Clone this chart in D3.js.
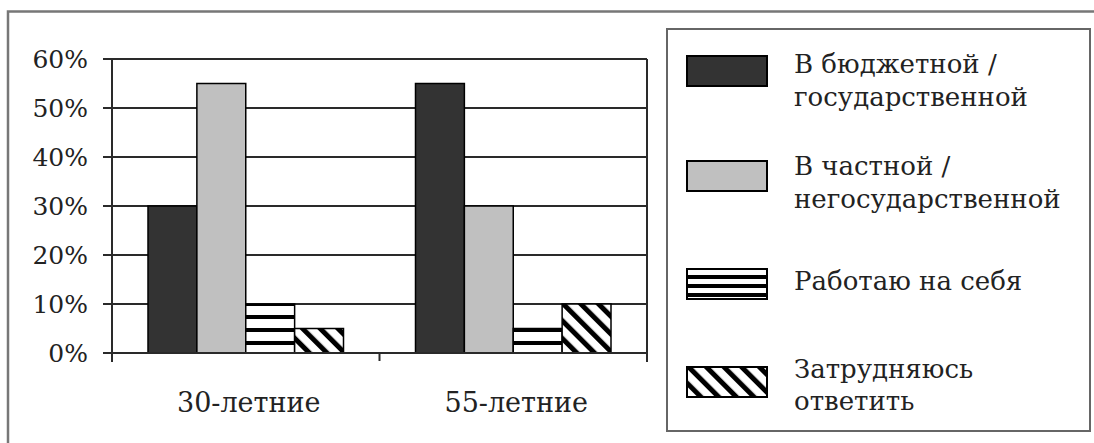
<!DOCTYPE html>
<html><head><meta charset="utf-8">
<script src="https://cdn.jsdelivr.net/npm/d3@7"></script>
<style>html,body{margin:0;padding:0;background:#fff;}svg{display:block;} text{font-family:"DejaVu Serif",serif;}</style>
</head><body>
<svg id="c" width="1094" height="443"></svg>
<script>
// ---- data ----
const categories = ["30-летние", "55-летние"];
const seriesNames = ["В бюджетной / государственной", "В частной / негосударственной", "Работаю на себя", "Затрудняюсь ответить"];
const legendLines = [["В бюджетной /", "государственной"], ["В частной /", "негосударственной"], ["Работаю на себя"], ["Затрудняюсь", "ответить"]];
const budgetValues = [30, 55];
const privateValues = [55, 30];
const selfValues = [10, 5];
const unsureValues = [5, 10];
const yTicks = [0, 10, 20, 30, 40, 50, 60];

const seriesValues = [budgetValues, privateValues, selfValues, unsureValues];

const svg = d3.select("#c");
const W = 1094, H = 443;
const TXT = "#222";

// patterns
const defs = svg.append("defs");
const hp = defs.append("pattern").attr("id", "hstripe").attr("patternUnits", "userSpaceOnUse")
  .attr("width", 10).attr("height", 13);
hp.append("rect").attr("width", 10).attr("height", 13).attr("fill", "#fff");
hp.append("rect").attr("y", 3).attr("width", 10).attr("height", 4).attr("fill", "#000");
const hpl = defs.append("pattern").attr("id", "hstripeL").attr("patternUnits", "userSpaceOnUse")
  .attr("width", 10).attr("height", 9);
hpl.append("rect").attr("width", 10).attr("height", 9).attr("fill", "#fff");
hpl.append("rect").attr("y", 5).attr("width", 10).attr("height", 4).attr("fill", "#000");
const dp = defs.append("pattern").attr("id", "diag").attr("patternUnits", "userSpaceOnUse")
  .attr("width", 12.5).attr("height", 12.5).attr("patternTransform", "rotate(-45)");
dp.append("rect").attr("width", 12.5).attr("height", 12.5).attr("fill", "#fff");
dp.append("rect").attr("x", 0).attr("width", 5).attr("height", 12.5).attr("fill", "#000");

const fills = ["#333333", "#c0c0c0", "url(#hstripe)", "url(#diag)"];
const legendFills = ["#333333", "#c0c0c0", "url(#hstripeL)", "url(#diag)"];

svg.append("rect").attr("width", W).attr("height", H).attr("fill", "#fff");

// outer frame (top and left visible)
svg.append("path").attr("d", "M8,445 L8,11.5 L1096,11.5").attr("fill", "none")
  .attr("stroke", "#777").attr("stroke-width", 2.5);

// scales
const plotL = 112, plotR = 647, plotT = 59, plotB = 353;
const x0 = d3.scaleBand().domain(categories).range([plotL, plotR]).paddingInner(0).paddingOuter(0);
const x1 = d3.scaleBand().domain(seriesNames).range([36, x0.bandwidth() - 36]).padding(0);
const y = d3.scaleLinear().domain([0, 60]).range([plotB, plotT]);

// gridlines
svg.append("g").selectAll("line").data(yTicks).join("line")
  .attr("x1", plotL - 9).attr("x2", plotR)
  .attr("y1", d => y(d)).attr("y2", d => y(d))
  .attr("stroke", "#2a2a2a").attr("stroke-width", 2);

// bars
const groups = svg.append("g").selectAll("g").data(categories).join("g")
  .attr("transform", d => `translate(${x0(d)},0)`);
groups.selectAll("rect").data((c, ci) => seriesNames.map((s, si) => ({ s, si, v: seriesValues[si][ci] })))
  .join("rect")
  .attr("x", d => x1(d.s)).attr("width", x1.bandwidth())
  .attr("y", d => y(d.v)).attr("height", d => y(0) - y(d.v))
  .attr("fill", d => fills[d.si]).attr("stroke", "#000").attr("stroke-width", 1.5);

// axes lines
svg.append("line").attr("x1", plotL).attr("x2", plotL).attr("y1", plotT).attr("y2", plotB + 9)
  .attr("stroke", "#2a2a2a").attr("stroke-width", 2);
svg.append("line").attr("x1", plotR).attr("x2", plotR).attr("y1", plotT).attr("y2", plotB + 9)
  .attr("stroke", "#2a2a2a").attr("stroke-width", 2);
svg.append("line").attr("x1", plotL - 9).attr("x2", plotR).attr("y1", plotB).attr("y2", plotB)
  .attr("stroke", "#2a2a2a").attr("stroke-width", 2);
svg.append("g").selectAll("line").data(categories.slice(1)).join("line")
  .attr("x1", d => x0(d)).attr("x2", d => x0(d)).attr("y1", plotB).attr("y2", plotB + 8)
  .attr("stroke", "#2a2a2a").attr("stroke-width", 2);

// y labels
svg.append("g").selectAll("text").data(yTicks).join("text")
  .attr("transform", d => `translate(88,${y(d) + 9})`)
  .attr("text-anchor", "end").style("font-size", "25px").attr("fill", TXT)
  .text(d => d + "%");

// x labels
svg.append("g").selectAll("text").data(categories).join("text")
  .attr("transform", d => `translate(${x0(d) + x0.bandwidth() / 2 + 3},412)`)
  .attr("text-anchor", "middle").style("font-size", "27px").attr("fill", TXT)
  .text(d => d);

// legend
const lg = svg.append("g");
lg.append("rect").attr("x", 667).attr("y", 29).attr("width", 423).attr("height", 402)
  .attr("fill", "#fff").attr("stroke", "#666").attr("stroke-width", 2);
const swatchY = [56, 161, 269, 367];
const textBase = [[73, 106], [175, 208], [290], [378, 410]];
seriesNames.forEach((s, i) => {
  lg.append("rect").attr("x", 687).attr("y", swatchY[i]).attr("width", 80).attr("height", 30)
    .attr("fill", legendFills[i]).attr("stroke", "#000").attr("stroke-width", 2);
  legendLines[i].forEach((ln, j) => {
    lg.append("text").attr("transform", `translate(794,${textBase[i][j]})`)
      .style("font-size", "26px").attr("fill", TXT).text(ln);
  });
});
</script>
</body></html>
